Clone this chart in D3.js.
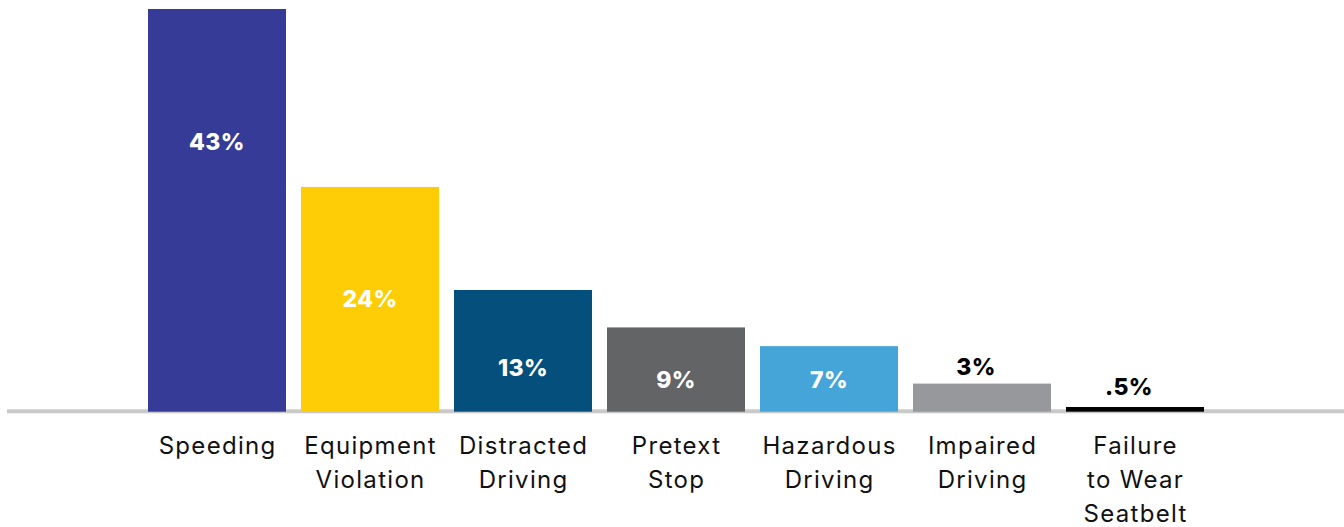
<!DOCTYPE html>
<html>
<head>
<meta charset="utf-8">
<script src="https://cdn.jsdelivr.net/npm/d3@7"></script>
<style>
  html, body { margin: 0; padding: 0; background: #fff; }
  svg { display: block; }
</style>
</head>
<body>
<svg id="chart" width="1344" height="527"></svg>
<script>
// Reasons for traffic stops, share of all stops
const categories = [
  ["Speeding"],
  ["Equipment", "Violation"],
  ["Distracted", "Driving"],
  ["Pretext", "Stop"],
  ["Hazardous", "Driving"],
  ["Impaired", "Driving"],
  ["Failure", "to Wear", "Seatbelt"]
];
const values = [43, 24, 13, 9, 7, 3, 0.5];
const valueLabels = ["43%", "24%", "13%", "9%", "7%", "3%", ".5%"];
const colors = ["#353b97", "#fecd05", "#054f7c", "#636466", "#45a5d8", "#97989c", "#000000"];

const svg = d3.select("#chart");
const W = 1344;
const baseY = 411.7;

const x = d3.scaleBand()
  .domain(d3.range(values.length))
  .range([148, 1204])
  .paddingInner(15 / 153)
  .paddingOuter(0);

const y = d3.scaleLinear()
  .domain([0, 43])
  .range([baseY, 9]);

// baseline rule
svg.append("rect")
  .attr("x", 7).attr("y", 409.3)
  .attr("width", W - 7).attr("height", 4)
  .attr("fill", "#c9c9c9");

// bars
svg.selectAll("rect.bar")
  .data(values)
  .join("rect")
  .attr("class", "bar")
  .attr("x", (d, i) => x(i))
  .attr("width", x.bandwidth())
  .attr("y", d => y(d))
  .attr("height", d => baseY - y(d))
  .attr("fill", (d, i) => colors[i]);

// value labels: inside the taller bars, above the short ones
const inside = v => v >= 5;
const labelY = (d, i) => {
  if (!inside(d)) return y(d) - (d < 1 ? 12 : 9);
  if (i === 0) return 150;
  if (i === 1) return 307;
  if (i === 2) return 376;
  return 388;
};
svg.selectAll("text.val")
  .data(values)
  .join("text")
  .attr("class", "val")
  .attr("x", (d, i) => x(i) + x.bandwidth() / 2 + (inside(d) ? 0 : -6))
  .attr("y", labelY)
  .attr("text-anchor", "middle")
  .attr("font-family", "Inter, Lato, sans-serif")
  .attr("font-weight", 800)
  .attr("font-size", 23)
  .attr("letter-spacing", 0.4)
  .attr("fill", d => inside(d) ? "#ffffff" : "#000000")
  .text((d, i) => valueLabels[i]);

// category labels
const cat = svg.selectAll("text.cat")
  .data(categories)
  .join("text")
  .attr("class", "cat")
  .attr("x", (d, i) => x(i) + x.bandwidth() / 2)
  .attr("y", 454)
  .attr("text-anchor", "middle")
  .attr("font-family", "Inter, Lato, sans-serif")
  .attr("font-size", 24)
  .attr("letter-spacing", 1.3)
  .attr("fill", "#111");

cat.selectAll("tspan")
  .data((d, i) => d.map(t => ({ t, i })))
  .join("tspan")
  .attr("x", d => x(d.i) + x.bandwidth() / 2 + 0.6)
  .attr("dy", (d, j) => j === 0 ? 0 : 34)
  .text(d => d.t);
</script>
</body>
</html>
